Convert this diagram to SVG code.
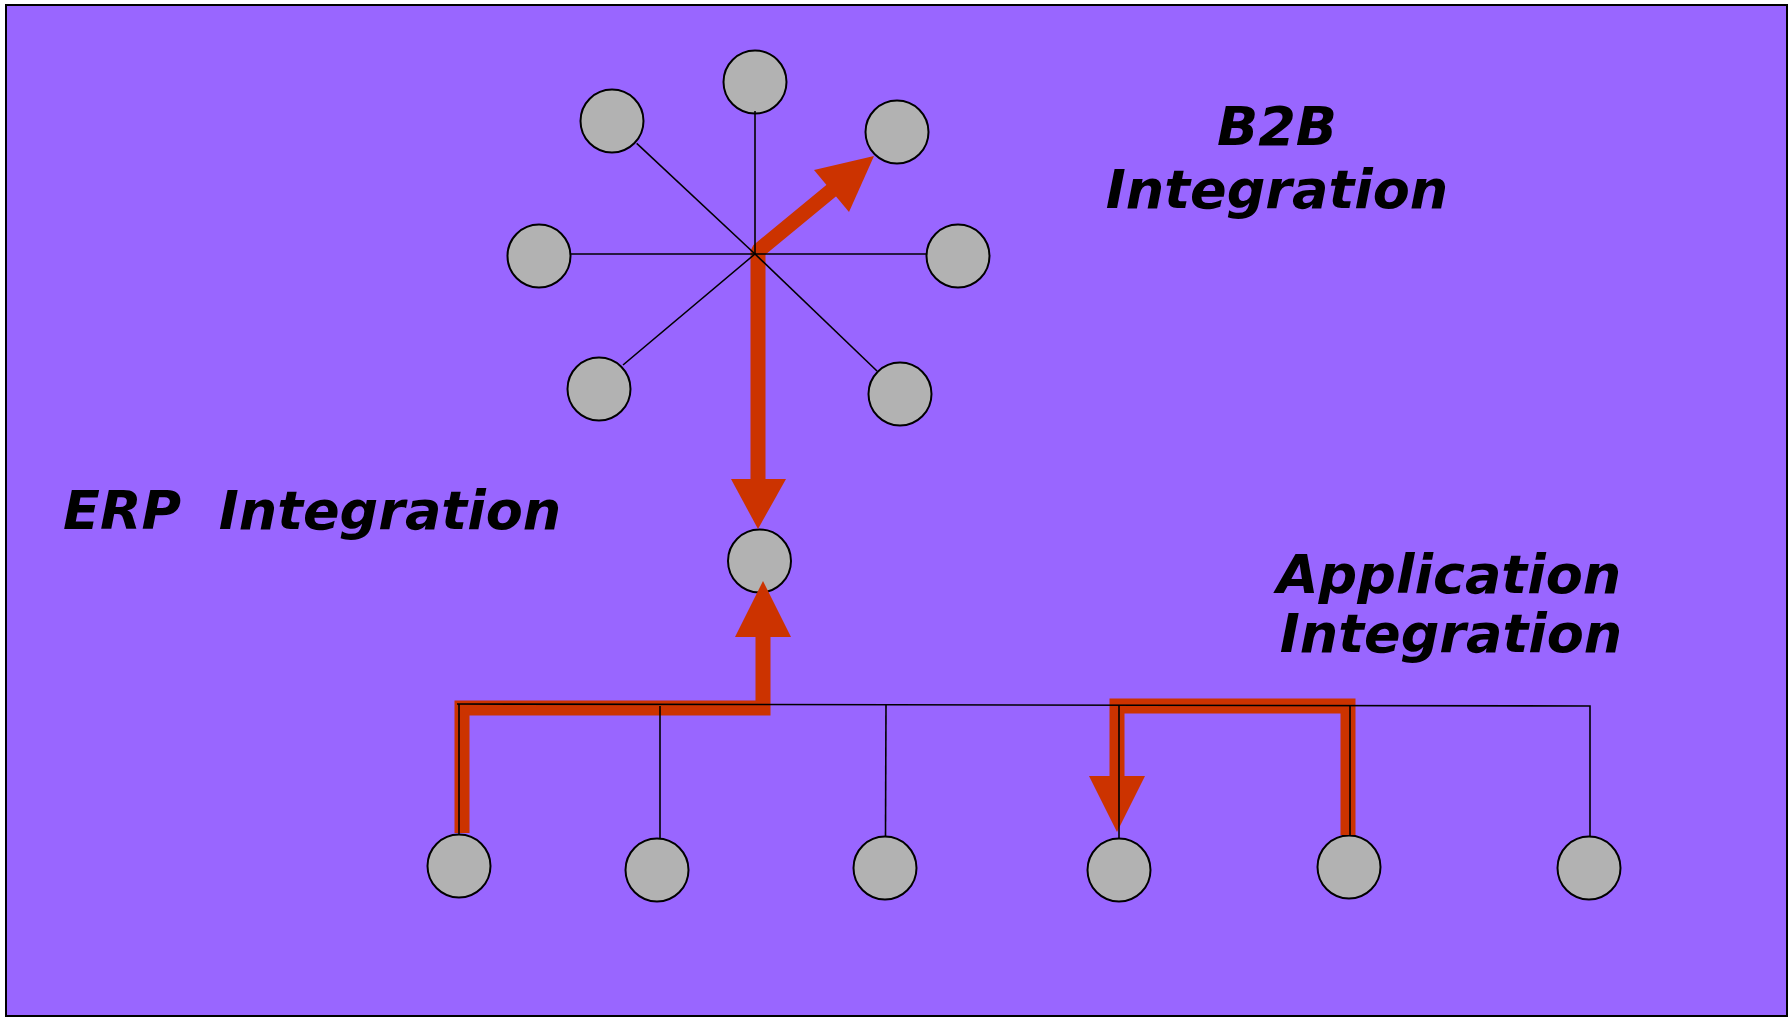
<svg xmlns="http://www.w3.org/2000/svg" width="1791" height="1020" viewBox="0 0 1791 1020">
<style>
.node circle{fill:#B2B2B2;stroke:#000;stroke-width:2}
.wire{stroke:#000;stroke-width:1.6;fill:none}
.red{stroke:#CC3300;stroke-width:15;fill:none}
.head{fill:#CC3300;stroke:none}
.lbl{font-family:"DejaVu Sans",Verdana,sans-serif;font-weight:bold;font-style:italic;font-size:54px;fill:#000;white-space:pre}
</style>
<rect x="6" y="5" width="1781" height="1011" fill="#9966FF" stroke="#000" stroke-width="2"/>
<g id="nodes">
<g id="n-top" class="node"><circle cx="755" cy="82" r="31.5"/></g>
<g id="n-topleft" class="node"><circle cx="612" cy="121" r="31.5"/></g>
<g id="n-topright" class="node"><circle cx="897" cy="132" r="31.5"/></g>
<g id="n-left" class="node"><circle cx="539" cy="256" r="31.5"/></g>
<g id="n-right" class="node"><circle cx="958" cy="256" r="31.5"/></g>
<g id="n-botleft" class="node"><circle cx="599" cy="389" r="31.5"/></g>
<g id="n-botright" class="node"><circle cx="900" cy="394" r="31.5"/></g>
<g id="n-erp" class="node"><circle cx="759.5" cy="561" r="31.5"/></g>
<g id="n-app1" class="node"><circle cx="459" cy="866" r="31.5"/></g>
<g id="n-app2" class="node"><circle cx="657" cy="870" r="31.5"/></g>
<g id="n-app3" class="node"><circle cx="885" cy="868" r="31.5"/></g>
<g id="n-app4" class="node"><circle cx="1119" cy="870" r="31.5"/></g>
<g id="n-app5" class="node"><circle cx="1349" cy="867" r="31.5"/></g>
<g id="n-app6" class="node"><circle cx="1589" cy="868" r="31.5"/></g>
</g>
<g id="connectors">
<g id="red-flows">
<line class="red" x1="758" y1="480" x2="758" y2="254"/>
<polyline class="red" stroke-width="16" stroke-linejoin="bevel" points="758,254 758,251 832,190"/>
<polygon class="head" points="814,170 874,156 849,212"/>
<polygon class="head" points="731,479 786,479 758,529"/>
<polyline class="red" points="462,833 462,708 763,708 763,637"/>
<polygon class="head" points="735,637 791,637 763,581"/>
<polyline class="red" points="1348,835 1348,706 1117,706 1117,777"/>
<polygon class="head" points="1089,776 1145,776 1117,832"/>
</g>
<g id="wires">
<line class="wire" x1="755" y1="254" x2="755" y2="111"/>
<line class="wire" x1="755" y1="254" x2="636.7" y2="143.3"/>
<line class="wire" x1="755" y1="254" x2="571" y2="254"/>
<line class="wire" x1="755" y1="254" x2="926.5" y2="254"/>
<line class="wire" x1="755" y1="254" x2="623" y2="365"/>
<line class="wire" x1="755" y1="254" x2="877" y2="371"/>
<polyline class="wire" points="457,704 1590,706 1590,836"/>
<line class="wire" x1="459" y1="704" x2="459" y2="834.5"/>
<line class="wire" x1="660" y1="706" x2="660" y2="838.5"/>
<line class="wire" x1="886" y1="705" x2="885.5" y2="836.5"/>
<line class="wire" x1="1119" y1="705" x2="1119" y2="838.5"/>
<line class="wire" x1="1350" y1="705" x2="1350" y2="835.5"/>
</g>
</g>
<g id="labels">
<text class="lbl" x="1277" y="145" text-anchor="middle">B2B</text>
<text class="lbl" x="1277" y="208" text-anchor="middle">Integration</text>
<text class="lbl" x="63" y="529">ERP  Integration</text>
<text class="lbl" x="1449" y="593" text-anchor="middle">Application</text>
<text class="lbl" x="1451" y="652" text-anchor="middle">Integration</text>
</g>
</svg>
